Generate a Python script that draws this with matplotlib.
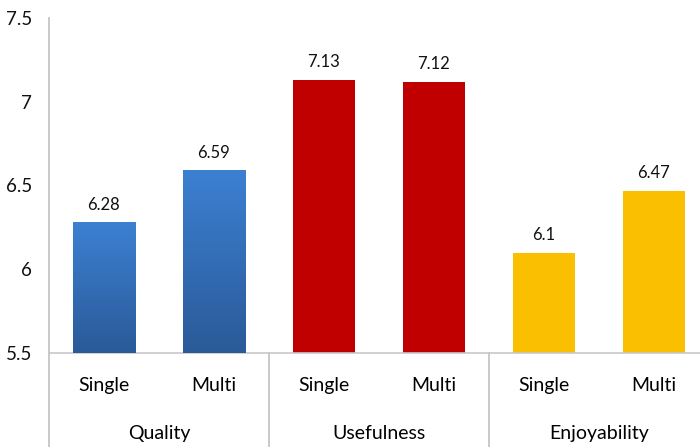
import matplotlib
matplotlib.use("Agg")
import matplotlib.pyplot as plt
import numpy as np
from matplotlib.colors import LinearSegmentedColormap
import matplotlib.transforms as mtransforms

plt.rcParams['font.family'] = ['Lato', 'DejaVu Sans']

groups = ["Quality", "Usefulness", "Enjoyability"]
conditions = ["Single", "Multi"]
values = [6.28, 6.59, 7.13, 7.12, 6.1, 6.47]
value_labels = ["6.28", "6.59", "7.13", "7.12", "6.1", "6.47"]
group_colors = ["#3478c8", "#c00000", "#f9bf00"]
yticks = [5.5, 6, 6.5, 7, 7.5]
ytick_labels = ["5.5", "6", "6.5", "7", "7.5"]

W, H = 700, 447
fig = plt.figure(figsize=(W / 100, H / 100), dpi=100)
ax = fig.add_axes([49 / W, (H - 353) / H, 660 / W, 335 / H])

x = np.arange(len(values))
ymin = 5.5
colors = [group_colors[i // 2] for i in range(len(values))]
bars = ax.bar(x, [v - ymin for v in values], bottom=ymin, width=0.57,
              color=colors, zorder=2)

# gradient for blue bars
cmap = LinearSegmentedColormap.from_list("blu", ["#2a5a98", "#3c80d2"])
grad = np.linspace(0, 1, 256).reshape(-1, 1)
for b in list(bars)[:2]:
    x0, y0 = b.get_x(), b.get_y()
    w, h = b.get_width(), b.get_height()
    im = ax.imshow(grad, cmap=cmap, aspect='auto', origin='lower',
                   extent=[x0, x0 + w, y0, y0 + h], zorder=3)
    im.set_clip_path(b)

for xi, v, lab in zip(x, values, value_labels):
    ax.annotate(lab, (xi, v), xytext=(0, 7), textcoords='offset points',
                ha='center', va='bottom', fontsize=12, color='#111111')

ax.set_xlim(-0.5, len(values) - 0.5)
ax.set_ylim(5.5, 7.5)
ax.set_yticks(yticks)
ax.set_yticklabels(ytick_labels, fontsize=13.5, color='#111111')
ax.set_xticks(x)
ax.set_xticklabels(conditions * len(groups), fontsize=14, color='#000000')
ax.tick_params(axis='y', length=0, pad=12)
ax.tick_params(axis='x', length=0, pad=17)

for s in ['top', 'right', 'left']:
    ax.spines[s].set_visible(False)
ax.spines['bottom'].set_color('#c8c8c8')
ax.spines['bottom'].set_linewidth(1.2)

gray = '#c0c0c0'
trans = mtransforms.blended_transform_factory(ax.transData, ax.transAxes)
bottom_ax = -(H - 353) / 335
# left axis line extends to bottom of figure
ax.plot([-0.5, -0.5], [1.0, bottom_ax], transform=trans, color=gray,
        lw=1.2, clip_on=False, zorder=1)
for bnd in [1.5, 3.5]:
    ax.plot([bnd, bnd], [0, bottom_ax], transform=trans, color=gray,
            lw=1.2, clip_on=False, zorder=1)

for gi, g in enumerate(groups):
    ax.text(gi * 2 + 0.5, -0.24, g, transform=trans, ha='center', va='center',
            fontsize=14, color='#000000')

fig.savefig("out.png", dpi=100)
